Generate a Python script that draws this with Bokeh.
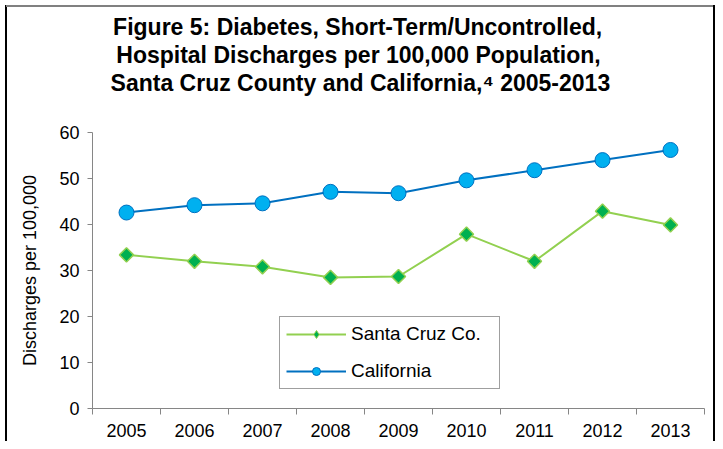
import math
from bokeh.plotting import figure
from bokeh.models import Range1d, FixedTicker, Legend, LegendItem, Title
from bokeh.embed import file_html
from bokeh.resources import INLINE

# ---- data ----
years = [2005, 2006, 2007, 2008, 2009, 2010, 2011, 2012, 2013]
santa_cruz = [33.4, 32.0, 30.8, 28.5, 28.7, 37.9, 32.0, 42.9, 39.9]
california = [42.6, 44.2, 44.6, 47.1, 46.8, 49.6, 51.8, 54.0, 56.2]
y_ticks = [0, 10, 20, 30, 40, 50, 60]
series_names = ["Santa Cruz Co.", "California"]
y_label = "Discharges per 100,000"
title_lines = [
    "Figure 5:  Diabetes, Short-Term/Uncontrolled,",
    "Hospital Discharges per 100,000 Population,",
    "Santa Cruz County and California,\u2074 2005-2013",
]

FONT = "Liberation Sans"
W, H = 715, 441
FL, FT, FB, FR = 92, 132, 33, 11          # frame borders (canvas px)

# approximate Arial/Liberation Sans Bold advance widths (per 1000 em), used
# only to centre the left-aligned title lines on the chart
BOLD_W = {" ": 278, ",": 278, "-": 333, ".": 278, "/": 278, ":": 333, "\u2074": 333,
          "A": 722, "C": 722, "D": 722, "F": 611, "H": 722, "P": 667, "S": 667,
          "T": 611, "U": 722, "a": 556, "b": 611, "c": 556, "d": 611, "e": 556,
          "f": 333, "g": 611, "h": 611, "i": 278, "l": 278, "m": 889, "n": 611,
          "o": 611, "p": 611, "r": 389, "s": 556, "t": 333, "u": 611, "y": 556,
          "z": 500}
TITLE_SIZE = 23
TITLE_CENTER = 358

def text_width(s, size):
    s = " ".join(s.split())   # runs of spaces collapse when drawn
    return sum(BOLD_W.get(c, 556) for c in s) / 1000 * size

p = figure(width=W, height=H, output_backend="svg", toolbar_location=None,
           x_range=Range1d(years[0] - 0.5, years[-1] + 0.5),
           y_range=Range1d(y_ticks[0], y_ticks[-1]),
           min_border_left=FL, min_border_right=FR, min_border_top=FT, min_border_bottom=FB)
# page frame around the chart (drawn behind the transparent canvas border area)
p.styles = {"background": (
    "linear-gradient(#808080,#808080) 6px 5px / calc(100% - 8px) 2px no-repeat, "
    "linear-gradient(#000000,#000000) 5px 5px / 2px 100% no-repeat, "
    "linear-gradient(#000000,#000000) right 0px top 5px / 2px 100% no-repeat, "
    "#ffffff")}
p.border_fill_alpha = 0
p.outline_line_color = None
p.background_fill_color = "white"
p.xgrid.visible = False
p.ygrid.visible = False

axis_color = "#868686"

# x axis: labels at year centres, ticks at category boundaries
xa = p.xaxis[0]
xa.ticker = FixedTicker(ticks=years,
                        minor_ticks=[y - 0.5 for y in years] + [years[-1] + 0.5])
xa.major_label_overrides = {y: str(y) for y in years}
xa.axis_line_color = axis_color
xa.major_tick_out = 0
xa.major_tick_in = 0
xa.minor_tick_out = 6
xa.minor_tick_in = 0
xa.minor_tick_line_color = axis_color
xa.major_label_standoff = 9
xa.major_label_text_font = FONT
xa.major_label_text_font_size = "18px"
xa.major_label_text_color = "#000000"

ya = p.yaxis[0]
ya.ticker = FixedTicker(ticks=y_ticks)
ya.axis_line_color = axis_color
ya.major_tick_line_color = axis_color
ya.major_tick_out = 5
ya.major_tick_in = 0
ya.minor_tick_line_color = None
ya.major_label_standoff = 8
ya.major_label_text_font = FONT
ya.major_label_text_font_size = "18px"
ya.major_label_text_color = "#000000"
ya.axis_label = y_label
ya.axis_label_text_font = FONT
ya.axis_label_text_font_size = "18px"
ya.axis_label_text_font_style = "normal"
ya.axis_label_text_color = "#000000"
ya.axis_label_standoff = 16

# series
l1 = p.line(years, santa_cruz, line_color="#92D050", line_width=2)
s1 = p.scatter(years, santa_cruz, marker="square", angle=math.pi / 4, size=10,
               fill_color="#00B050", line_color="#92D050", line_width=1.5)
l2 = p.line(years, california, line_color="#0070C0", line_width=2)
s2 = p.scatter(years, california, marker="circle", size=15,
               fill_color="#00B0F0", line_color="#0070C0", line_width=1)
# hidden proxy used only for the legend's diamond symbol (legend glyphs ignore angle)
s1_key = p.scatter(years, santa_cruz, marker="diamond", size=12, visible=False,
                   fill_color="#00B050", line_color="#92D050", line_width=1)

legend = Legend(items=[LegendItem(label=series_names[0], renderers=[l1, s1_key]),
                       LegendItem(label=series_names[1], renderers=[l2, s2])],
                location=(187, 19), orientation="vertical",
                border_line_color="#404040", border_line_width=1,
                background_fill_color="white", background_fill_alpha=1,
                inactive_fill_alpha=0,
                label_text_font=FONT, label_text_font_size="19px",
                label_text_color="#000000",
                glyph_width=60, glyph_height=20, label_height=20, label_width=142,
                spacing=15, padding=6, margin=0, label_standoff=5)
p.add_layout(legend)

# spacer between the frame and the title block
p.add_layout(Title(text=" ", text_font_size="1px", standoff=34), "above")
# title lines: added bottom line first (later titles stack above)
for t in reversed(title_lines):
    off = TITLE_CENTER - text_width(t, TITLE_SIZE) / 2 - FL
    p.add_layout(Title(text=t, align="left", offset=off, standoff=0,
                       text_font=FONT, text_font_style="bold",
                       text_font_size=f"{TITLE_SIZE}px", text_color="#000000"), "above")

open("out.html", "w").write(file_html(p, INLINE))
